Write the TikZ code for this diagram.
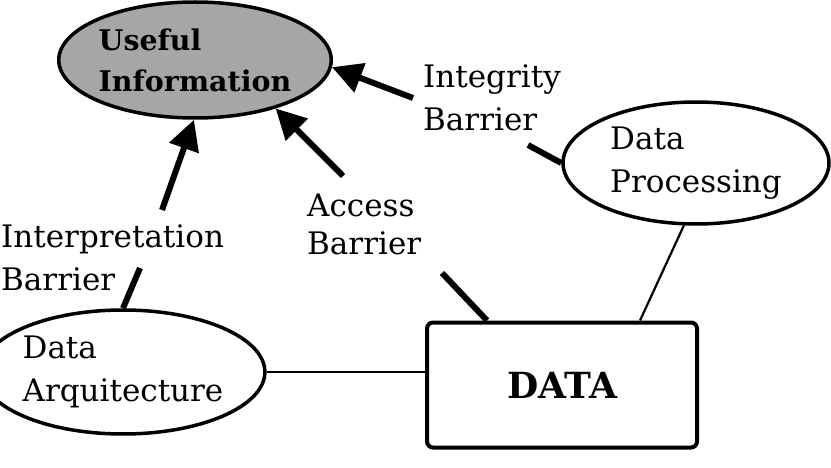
\documentclass[tikz,border=0pt]{standalone}
\usepackage{fontspec}
\setmainfont{DejaVu Serif}
\usetikzlibrary{arrows.meta,shapes.geometric,calc}
\tikzset{
  lbl/.style={inner sep=0pt, align=left, font=\fontsize{31}{43}\selectfont},
  ell/.style={ellipse, draw, line width=3.5pt, inner sep=0pt, align=left,
              font=\fontsize{31}{43}\selectfont},
  barrow/.style={line width=6pt, -{Triangle[length=30pt,width=30pt]}},
  thick line/.style={line width=6pt},
  thin line/.style={line width=2.2pt},
}
\begin{document}
\begin{tikzpicture}[x=1pt,y=-1pt]
\useasboundingbox (0,0) rectangle (831,468);
% nodes
\node[ell, fill=black!35, minimum width=264pt, minimum height=116pt,
      font=\fontsize{28.5}{41}\selectfont\bfseries] (useful) at (195,60) {Useful\\Information};
\node[ell, minimum width=266pt, minimum height=122pt] (dp) at (696,163) {Data\\Processing};
\node[ell, minimum width=260pt, minimum height=124pt] (darq) at (123,372) {Data\\Arquitecture};
\node[draw, line width=4pt, rounded corners=6pt, minimum width=270pt, minimum height=125pt,
      font=\fontsize{36}{40}\selectfont\bfseries, text depth=-24pt] (data) at (562,385) {DATA};
% labels
\node[lbl, anchor=north west] (integ) at (423,64) {Integrity\\Barrier};
\node[lbl, anchor=north west, font=\fontsize{31}{38}\selectfont] (access) at (307,194) {Access\\Barrier};
\node[lbl, anchor=north west] (interp) at (1,224) {Interpretation\\Barrier};
% free ends of the barrier connectors
\coordinate (iTop) at (413,98);
\coordinate (iBot) at (528,145);
\coordinate (aTop) at (343,176);
\coordinate (aBot) at (442,273);
\coordinate (pTop) at (162,210);
\coordinate (pBot) at (140,268);
% connectors
\draw[barrow] (iTop) -- (useful.-3);
\draw[barrow] (aTop) -- (useful.-31);
\draw[barrow] (pTop) -- (useful.-91);
\draw[thick line] (dp.west) -- (iBot);
\draw[thick line] (aBot) -- ($(data.north west)+(62,0)$);
\draw[thick line] (pBot) -- (darq.north);
\draw[thin line] (dp.-101) -- ($(data.north west)+(215,0)$);
\draw[thin line] (darq.east) -- (darq.east -| data.west);
\end{tikzpicture}
\end{document}
